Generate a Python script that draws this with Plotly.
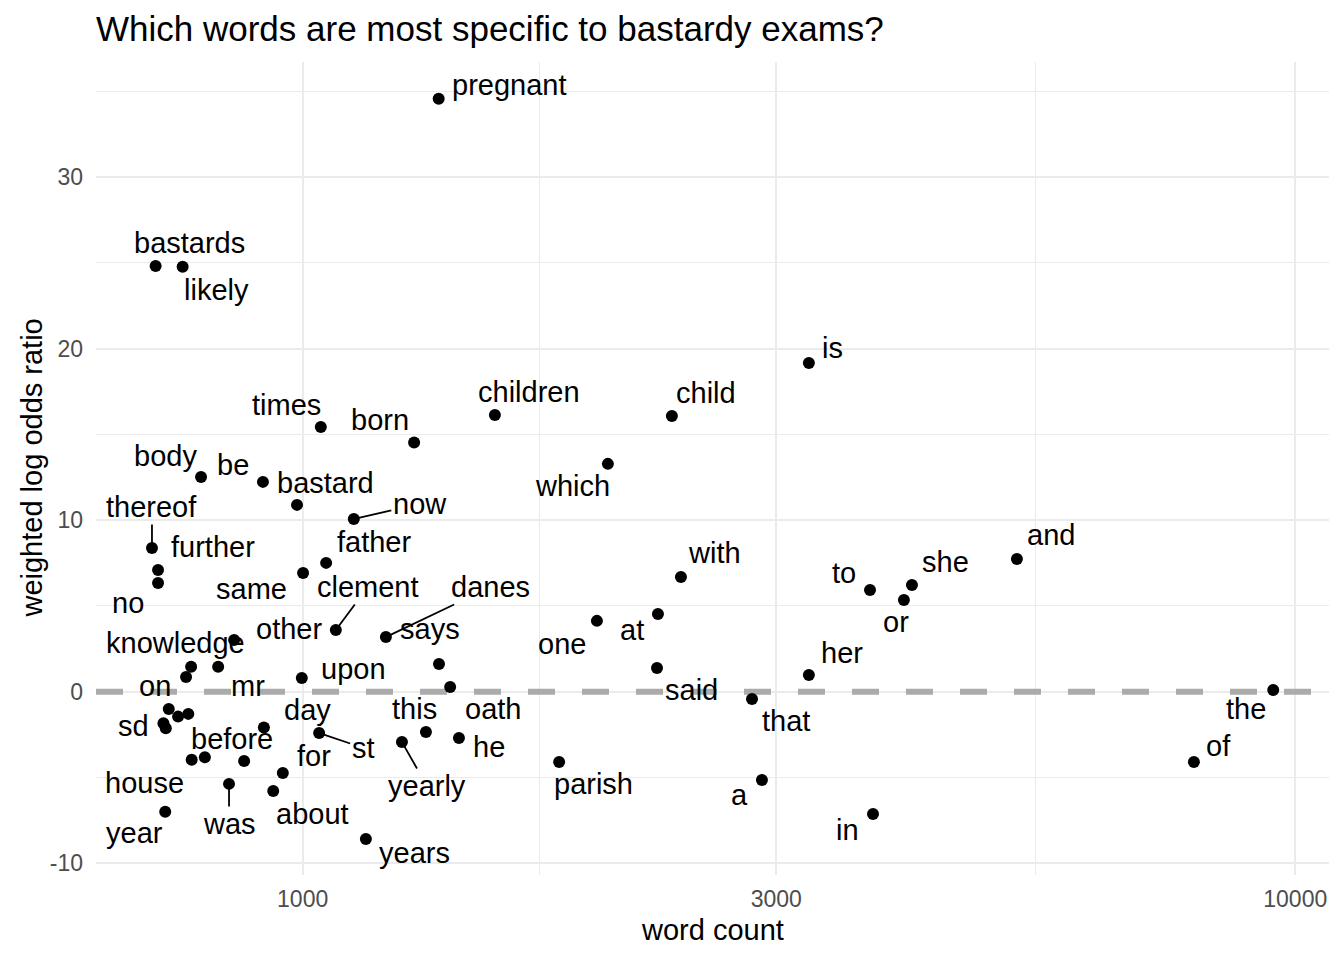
import numpy as np
import plotly.graph_objects as go

# words, how often they occur, and their weighted log odds for bastardy exams
words = ["pregnant", "bastards", "likely", "is", "times", "children", "child", "born",
         "which", "body", "be", "bastard", "now", "thereof", "further", "no", "same",
         "father", "clement", "danes", "other", "knowledge", "mr", "on", "upon", "says",
         "oath", "one", "at", "with", "and", "she", "to", "or", "her", "said", "that",
         "the", "of", "a", "in", "parish", "", "", "", "sd", "", "day", "st", "yearly",
         "this", "he", "house", "before", "", "for", "was", "about", "year", "years"]
word_count = [1371, 711, 757, 3236, 1043, 1562, 2355, 1295,
              2030, 790, 912, 987, 1126, 705, 715, 715, 1001,
              1056, 1080, 1213, 853, 772, 822, 763, 998, 1372,
              1408, 1979, 2280, 2405, 5243, 4110, 3729, 4034, 3236, 2275, 2836,
              9502, 7905, 2902, 3755, 1813, 733, 749, 767, 724, 728, 914, 1039, 1259,
              1331, 1437, 773, 797, 873, 955, 843, 934, 727, 1158]
log_odds = [34.56, 24.81, 24.77, 19.16, 15.43, 16.13, 16.07, 14.52,
            13.28, 12.52, 12.23, 10.89, 10.07, 8.38, 7.10, 6.34, 6.92,
            7.51, 3.60, 3.19, 3.02, 1.45, 1.45, 0.86, 0.80, 1.62,
            0.28, 4.13, 4.53, 6.69, 7.74, 6.22, 5.93, 5.35, 0.98, 1.39, -0.42,
            0.10, -4.09, -5.14, -7.12, -4.09, -1.00, -1.45, -1.29, -1.84, -2.13, -2.09, -2.40, -2.93,
            -2.34, -2.69, -3.97, -3.82, -4.03, -4.73, -5.37, -5.78, -7.00, -8.58]

# where each (repelled) label sits relative to its point, in pixels
label_dx = [71, 34, 34, 24, -34, 34, 34, -34,
            -35, -36, -30, 28, 66, 0, 55, -30, -52,
            48, 32, 105, 55, -16, 30, -31, 52, -9,
            43, -35, -26, 34, 34, 34, -26, -8, 33, 34, 34,
            -27, 25, -22, -26, 34, 0, 0, 0, -30, 0, 44, 44, 25,
            -11, 30, -47, 27, 0, 31, 0, 39, -31, 49]
label_dy = [-14, -23, 23, -15, -22, -23, -23, -23,
            22, -21, -17, -22, -15, -41, -23, 20, 16,
            -21, -43, -50, -11, -24, 19, 9, -9, -35,
            22, 23, 16, -24, -24, -23, -17, 22, -22, 22, 22,
            19, -16, 15, 16, 22, 0, 0, 0, 3, 0, -18, 15, 44,
            -23, 9, 23, -18, 0, -17, 40, 23, 21, 14]
has_segment = ["now", "thereof", "clement", "danes", "st", "yearly", "was"]

x_ticks = [1000, 3000, 10000]
y_ticks = [-10, 0, 10, 20, 30]
x_range = [2.7918, 4.034]
y_range = [-10.68, 36.70]

font = "Liberation Sans"

fig = go.Figure()

# dashed zero reference line (a trace so it sits above the grid, below the points)
fig.add_trace(go.Scatter(
    x=[10 ** x_range[0], 10 ** x_range[1]], y=[0, 0], mode="lines",
    line=dict(color="#ABABAB", width=6, dash="27px,27px"),
    hoverinfo="skip", showlegend=False
))

fig.add_trace(go.Scatter(
    x=word_count, y=log_odds, mode="markers",
    marker=dict(color="black", size=12),
    hoverinfo="skip", showlegend=False
))

for w, c, v, dx, dy in zip(words, word_count, log_odds, label_dx, label_dy):
    if not w:
        continue
    seg = w in has_segment
    fig.add_annotation(
        x=np.log10(c), y=v, text=w, xref="x", yref="y",
        showarrow=True, ax=dx, ay=dy, axref="pixel", ayref="pixel",
        arrowhead=0, arrowwidth=1.8, standoff=5,
        arrowcolor="black" if seg else "rgba(0,0,0,0)",
        font=dict(family=font, size=29, color="black"),
    )

# axis titles
fig.add_annotation(text="word count", xref="paper", yref="paper", x=0.5, y=-0.0677,
                   xanchor="center", yanchor="middle", showarrow=False,
                   font=dict(family=font, size=29, color="black"))
fig.add_annotation(text="weighted log odds ratio", xref="paper", yref="paper",
                   x=-0.0527, y=0.5, xanchor="center", yanchor="middle",
                   textangle=-90, showarrow=False,
                   font=dict(family=font, size=29, color="black"))

# the page body adds an 8px margin, so the figure is 8px smaller and shifted
fig.update_layout(
    width=1336, height=952,
    margin=dict(l=88, r=15, t=54, b=85),
    paper_bgcolor="white", plot_bgcolor="white",
    title=dict(text="Which words are most specific to bastardy exams?",
               xref="paper", x=0, xanchor="left",
               yref="container", y=1 - 21 / 952, yanchor="middle",
               font=dict(family=font, size=35, color="black")),
)

fig.update_xaxes(
    type="log", range=x_range,
    tickvals=x_ticks, ticktext=[str(t) for t in x_ticks],
    showgrid=True, gridcolor="#EBEBEB", gridwidth=2.2,
    minor=dict(tickvals=[1732, 5477], showgrid=True, gridcolor="#EBEBEB", gridwidth=1.2),
    zeroline=False, showline=False, ticks="", automargin=False,
    ticklabelstandoff=8,
    tickfont=dict(family=font, size=23, color="#4D4D4D"),
)
fig.update_yaxes(
    range=y_range,
    tickvals=y_ticks, ticktext=[str(t) for t in y_ticks],
    showgrid=True, gridcolor="#EBEBEB", gridwidth=2.2,
    minor=dict(tickvals=[-5, 5, 15, 25, 35], showgrid=True, gridcolor="#EBEBEB", gridwidth=1.2),
    zeroline=False, showline=False, ticks="", automargin=False,
    ticklabelstandoff=12,
    tickfont=dict(family=font, size=23, color="#4D4D4D"),
)

fig.write_html("out.html")
